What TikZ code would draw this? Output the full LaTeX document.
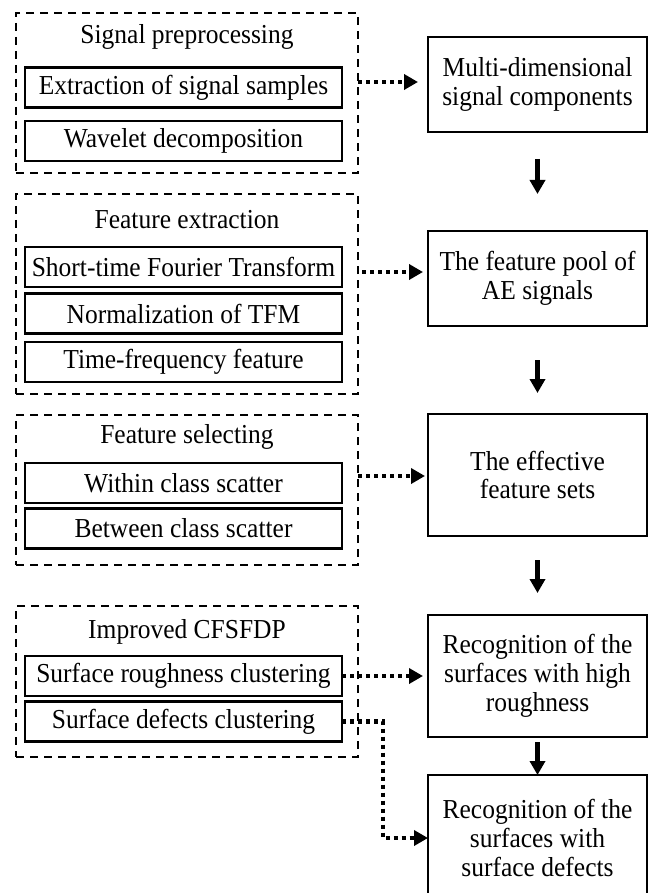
\documentclass[tikz,border=0pt]{standalone}
\usepackage{fontspec}
\setmainfont{Liberation Serif}[FakeStretch=0.93]
\usetikzlibrary{arrows.meta,calc}
\begin{document}
\begin{tikzpicture}[x=1pt,y=-1pt,
  every node/.style={font=\fontsize{27.4}{28.8}\selectfont, inner sep=0pt, outer sep=0pt},
  group/.style={draw, dash pattern=on 8pt off 6pt, line width=2pt, minimum width=342pt},
  inbox/.style={draw, line width=2.5pt, minimum width=317pt, minimum height=40pt},
  outbox/.style={draw, line width=2.5pt, minimum width=219pt, align=center},
  dotarrow/.style={line width=4.5pt, dash pattern=on 4pt off 4pt, -{Triangle[length=14pt,width=15pt]}},
  downarrow/.style={line width=4.5pt, -{Triangle[length=14pt,width=15pt]}}
]
\useasboundingbox (0,0) rectangle (649,893);
\clip (0,0) rectangle (649,893);
\fill[white] (0,0) rectangle (649,893);

% group 1
\node[group, minimum height=160pt] (g1) at (187,93) {};
\node (t1) at (187,37) {Signal preprocessing};
\node[inbox] (a1) at (183.5,87.5) {Extraction of signal samples};
\node[inbox] (a2) at (183.5,141) {Wavelet decomposition};

% group 2
\node[group, minimum height=200pt] (g2) at (187,294) {};
\node (t2) at (187,220) {Feature extraction};
\node[inbox] (e1) at (183.5,267) {Short-time Fourier Transform};
\node[inbox] (e2) at (183.5,313.5) {Normalization of TFM};
\node[inbox] (e3) at (183.5,362) {Time-frequency feature};

% group 3
\node[group, minimum height=150pt] (g3) at (187,490) {};
\node (t3) at (187,437) {Feature selecting};
\node[inbox] (c1) at (183.5,483) {Within class scatter};
\node[inbox] (c2) at (183.5,528.5) {Between class scatter};

% group 4
\node[group, minimum height=151pt] (g4) at (187,681.5) {};
\node (t4) at (187,632) {Improved CFSFDP};
\node[inbox] (d1) at (183.5,676) {Surface roughness clustering};
\node[inbox] (d2) at (183.5,721.5) {Surface defects clustering};

% right column
\node[outbox, minimum height=95pt] (b1) at (537.5,84.5) {Multi-dimensional\\signal components};
\node[outbox, minimum height=95pt] (b2) at (537.5,278.5) {The feature pool of\\AE signals};
\node[outbox, minimum height=122pt] (b3) at (537.5,475) {The effective\\feature sets};
\node[outbox, minimum height=122pt] (b4) at (537.5,676) {Recognition of the\\surfaces with high\\roughness};
\node[outbox, minimum height=126pt] (b5) at (537.5,838) {Recognition of the\\surfaces with\\surface defects};

% dotted connectors
\draw[dotarrow] ($(g1.east |- b1.west)+(0,-2.5)$) -- ($(b1.west)+(-10,-2.5)$);
\draw[dotarrow] ($(g2.east |- b2.west)+(4,-6.5)$) -- ($(b2.west)+(-5,-6.5)$);
\draw[dotarrow] ($(g3.east |- b3.west)+(0,1)$) -- ($(b3.west)+(-3,1)$);
\draw[dotarrow] (d1.east) -- ($(d1.east -| b4.west)+(-5,0)$);
\coordinate (k) at ($(d2.east)+(41,0)$);
\draw[dotarrow] (d2.east) -- (k) |- (b5.west);

% down arrows
\draw[downarrow, shorten <=27pt, shorten >=37pt] (b1.south) -- (b2.north);
\draw[downarrow, shorten <=34pt, shorten >=21pt] (b2.south) -- (b3.north);
\draw[downarrow, shorten <=24pt, shorten >=22pt] (b3.south) -- (b4.north);
\draw[downarrow, shorten <=5pt] (b4.south) -- (b5.north);
\end{tikzpicture}
\end{document}
